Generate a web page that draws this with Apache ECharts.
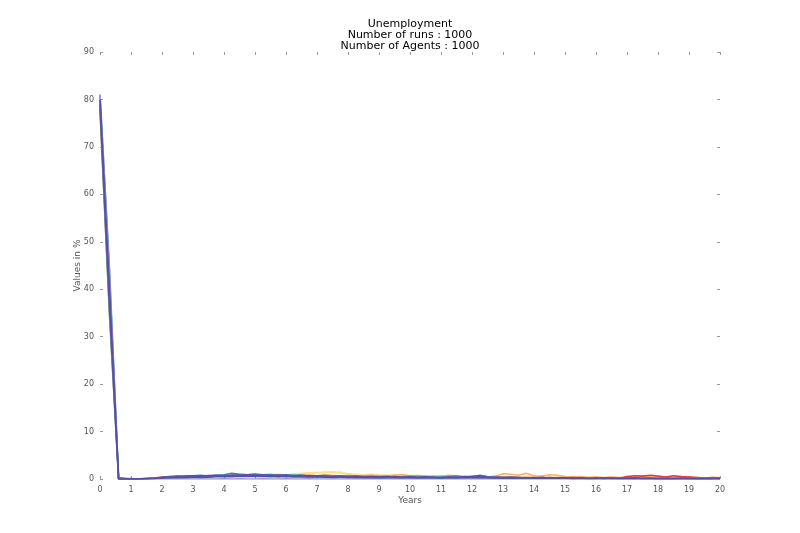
<!DOCTYPE html>
<html>
<head>
<meta charset="utf-8">
<script src="https://cdn.jsdelivr.net/npm/echarts@6/dist/echarts.min.js"></script>
<style>
  html, body { margin: 0; padding: 0; background: #fff; }
  #chart { width: 800px; height: 533px; }
</style>
</head>
<body>
<div id="chart"></div>
<script>
// sample times in years: three points for the initial drop, then quarterly from 1 to 20
const years = [0, 0.3, 0.6];
for (let t = 1; t <= 20.001; t += 0.25) years.push(+t.toFixed(2));

const yTicks = [0, 10, 20, 30, 40, 50, 60, 70, 80, 90];
const xTicks = [0, 1, 2, 3, 4, 5, 6, 7, 8, 9, 10, 11, 12, 13, 14, 15, 16, 17, 18, 19, 20];

// a handful of representative runs
const runYellowGreen = [80, 43, 0,
  0, 0, 0, 0.05,  0.2, 0.3, 0.3, 0.4,  0.5, 0.6, 0.5, 0.7,  0.6, 0.7, 0.8, 0.7,
  0.8, 1.0, 0.9, 1.0,  0.9, 1.0, 1.1, 1.3,  1.2, 1.6, 1.4, 1.5,  1.0, 0.9, 0.8, 0.9,
  0.7, 0.8, 0.6, 0.7,  0.8, 0.7, 0.6, 0.7,  0.6, 0.5, 0.6, 0.5,  0.4, 0.5, 0.4, 0.3,
  0.4, 0.3, 0.4, 0.3,  0.3, 0.4, 0.3, 0.4,  0.3, 0.4, 0.3, 0.2,  0.3, 0.2, 0.3, 0.2,
  0.2, 0.3, 0.2, 0.3,  0.2, 0.3, 0.2, 0.2,  0.3, 0.2, 0.2, 0.2,  0.3];
const runYellow = [79, 39, 0,
  0, 0, 0.05, 0.1,  0.3, 0.4, 0.3, 0.5,  0.5, 0.6, 0.7, 0.6,  0.7, 0.8, 0.9, 0.8,
  1.0, 0.8, 0.9, 1.0,  0.9, 1.1, 1.2, 1.3,  1.4, 1.3, 1.5, 1.2,  1.1, 1.0, 0.9, 1.0,
  0.9, 0.8, 0.9, 0.8,  0.7, 0.8, 0.6, 0.5,  0.6, 0.5, 0.4, 0.5,  0.4, 0.5, 0.3, 0.4,
  0.5, 0.4, 0.3, 0.4,  0.3, 0.4, 0.3, 0.4,  0.3, 0.2, 0.3, 0.4,  0.3, 0.2, 0.3, 0.2,
  0.3, 0.2, 0.3, 0.2,  0.2, 0.3, 0.2, 0.3,  0.2, 0.3, 0.2, 0.2,  0.3];
const runOrange = [80, 42, 0,
  0, 0, 0.1, 0.2,  0.3, 0.4, 0.5, 0.4,  0.6, 0.5, 0.6, 0.7,  0.6, 0.7, 0.6, 0.8,
  0.7, 0.8, 0.7, 0.9,  0.8, 0.7, 0.8, 0.9,  0.7, 0.9, 0.8, 0.7,  0.8, 0.6, 0.7, 0.8,
  0.7, 0.6, 0.8, 0.9,  0.7, 0.6, 0.7, 0.5,  0.6, 0.8, 0.6, 0.5,  0.6, 0.5, 0.4, 0.6,
  1.1, 1.0, 0.8, 1.2,  0.7, 0.6, 0.9, 0.8,  0.5, 0.4, 0.5, 0.3,  0.4, 0.3, 0.4, 0.3,
  0.4, 0.3, 0.5, 0.4,  0.3, 0.4, 0.3, 0.5,  0.4, 0.3, 0.2, 0.3,  0.3];
const runRed = [78, 36, 0,
  0.1, 0, 0.1, 0.2,  0.4, 0.5, 0.4, 0.6,  0.5, 0.6, 0.5, 0.7,  0.6, 0.7, 0.6, 0.7,
  0.6, 0.7, 0.6, 0.5,  0.6, 0.5, 0.6, 0.5,  0.5, 0.6, 0.5, 0.4,  0.5, 0.4, 0.5, 0.4,
  0.4, 0.5, 0.4, 0.3,  0.4, 0.3, 0.4, 0.5,  0.4, 0.5, 0.6, 0.4,  0.5, 0.4, 0.3, 0.4,
  0.3, 0.4, 0.3, 0.2,  0.3, 0.2, 0.3, 0.2,  0.2, 0.3, 0.2, 0.1,  0.2, 0.1, 0.2, 0.1,
  0.5, 0.7, 0.6, 0.8,  0.6, 0.4, 0.7, 0.5,  0.4, 0.3, 0.2, 0.3,  0.2];
const runTeal = [78, 35, 0,
  0, 0, 0, 0.1,  0.2, 0.3, 0.4, 0.5,  0.6, 0.5, 0.7, 0.6,  0.8, 0.7, 1.0, 0.9,
  1.1, 0.9, 1.0, 0.8,  0.7, 0.9, 0.8, 0.6,  0.7, 0.8, 0.6, 0.7,  0.6, 0.5, 0.6, 0.5,
  0.5, 0.6, 0.4, 0.5,  0.7, 0.6, 0.5, 0.4,  0.5, 0.4, 0.5, 0.3,  0.4, 0.3, 0.4, 0.3,
  0.3, 0.4, 0.3, 0.2,  0.3, 0.2, 0.3, 0.2,  0.3, 0.2, 0.3, 0.2,  0.2, 0.1, 0.2, 0.1,
  0.1, 0.2, 0.1, 0.2,  0.1, 0.2, 0.1, 0.1,  0.1, 0.2, 0.1, 0.1,  0.1];
const runBlue = [81, 45, 0.3,
  0, 0, 0.1, 0.2,  0.3, 0.5, 0.6, 0.5,  0.7, 0.8, 0.6, 0.8,  0.9, 1.2, 1.0, 0.9,
  1.0, 0.8, 0.9, 0.7,  0.9, 0.7, 0.8, 0.6,  0.6, 0.7, 0.5, 0.6,  0.5, 0.6, 0.4, 0.5,
  0.4, 0.5, 0.4, 0.3,  0.4, 0.3, 0.4, 0.3,  0.3, 0.4, 0.3, 0.5,  0.4, 0.8, 0.5, 0.3,
  0.3, 0.2, 0.3, 0.2,  0.2, 0.3, 0.2, 0.2,  0.2, 0.1, 0.2, 0.1,  0.1, 0.2, 0.1, 0.1,
  0.1, 0.2, 0.1, 0.1,  0.1, 0.05, 0.1, 0.1,  0.05, 0.1, 0.05, 0.1,  0.1];
const runLavender = [81, 44, 0,
  0, 0, 0, 0,  0, 0.05, 0, 0.05,  0, 0.05, 0, 0,  0.05, 0, 0.05, 0,
  0, 0.05, 0, 0,  0.05, 0, 0, 0.05,  0, 0, 0.05, 0,  0, 0.05, 0, 0,
  0.05, 0, 0, 0,  0, 0.05, 0, 0,  0, 0, 0.05, 0,  0, 0, 0, 0.05,
  0, 0, 0, 0,  0.05, 0, 0, 0,  0, 0, 0.05, 0,  0, 0, 0, 0,
  0, 0.05, 0, 0,  0, 0, 0, 0.05,  0, 0, 0, 0,  0];
const runPurpleB = [79, 37, 0,
  0, 0.05, 0.1, 0.15,  0.3, 0.4, 0.55, 0.6,  0.7, 0.6, 0.75, 0.8,  0.7, 0.85, 0.8, 0.9,
  0.8, 0.9, 0.75, 0.85,  0.8, 0.7, 0.75, 0.65,  0.7, 0.6, 0.55, 0.6,  0.5, 0.55, 0.45, 0.5,
  0.45, 0.4, 0.5, 0.4,  0.45, 0.35, 0.4, 0.35,  0.3, 0.4, 0.35, 0.45,  0.5, 0.65, 0.4, 0.35,
  0.3, 0.35, 0.25, 0.3,  0.25, 0.3, 0.2, 0.25,  0.2, 0.25, 0.2, 0.15,  0.2, 0.15, 0.2, 0.15,
  0.15, 0.2, 0.1, 0.15,  0.1, 0.15, 0.1, 0.15,  0.1, 0.15, 0.1, 0.1,  0.15];
const runPurpleA = [80, 41, 0,
  0, 0, 0.05, 0.1,  0.2, 0.25, 0.3, 0.35,  0.4, 0.45, 0.4, 0.5,  0.55, 0.5, 0.6, 0.55,
  0.6, 0.55, 0.5, 0.6,  0.55, 0.5, 0.45, 0.5,  0.45, 0.4, 0.45, 0.4,  0.35, 0.4, 0.3, 0.35,
  0.3, 0.35, 0.3, 0.25,  0.3, 0.25, 0.3, 0.25,  0.2, 0.25, 0.3, 0.25,  0.3, 0.35, 0.25, 0.2,
  0.2, 0.15, 0.2, 0.2,  0.15, 0.2, 0.15, 0.2,  0.15, 0.1, 0.15, 0.1,  0.1, 0.15, 0.1, 0.1,
  0.1, 0.05, 0.1, 0.1,  0.05, 0.1, 0.05, 0.1,  0.1, 0.05, 0.1, 0.05,  0.1];

const runs = [
  { values: runYellowGreen, color: "#e6f598" },
  { values: runYellow, color: "#fee08b" },
  { values: runOrange, color: "#fdae61" },
  { values: runRed, color: "#d53e4f" },
  { values: runTeal, color: "#66c2a5" },
  { values: runBlue, color: "#3288bd" },
  { values: runLavender, color: "#9a9ad6" },
  { values: runPurpleB, color: "#5e4fa2" },
  { values: runPurpleA, color: "#5b4ea0" }
];

const chart = echarts.init(document.getElementById("chart"));
const font = "DejaVu Sans";
const tickStyle = { inside: true, length: 3, lineStyle: { color: "#999" } };

let series = runs.map((r) => ({
  type: "line",
  showSymbol: false,
  symbol: "none",
  data: years.map((x, i) => [x, r.values[i]]),
  lineStyle: { width: 1.6, color: r.color },
  itemStyle: { color: r.color },
  xAxisIndex: 0,
  yAxisIndex: 0
}));

chart.setOption({
  animation: false,
  backgroundColor: "#fff",
  title: {
    text: "Unemployment\nNumber of runs : 1000\nNumber of Agents : 1000",
    left: 405,
    top: 14,
    textAlign: "center",
    textStyle: { fontFamily: font, fontSize: 11, fontWeight: "normal", color: "#000", lineHeight: 11 }
  },
  grid: { left: 100, right: 80, top: 52, bottom: 54 },
  xAxis: [
    {
      type: "value", min: 0, max: 20, interval: 1,
      name: "Years", nameLocation: "middle", nameGap: 17, nameMoveOverlap: false,
      nameTextStyle: { fontFamily: font, fontSize: 9, color: "#555" },
      axisLine: { show: false, onZero: false },
      axisTick: tickStyle,
      splitLine: { show: false },
      axisLabel: { fontFamily: font, fontSize: 8, color: "#555", margin: 7,
        formatter: (v) => (xTicks.includes(v) ? String(v) : "") }
    },
    {
      type: "value", min: 0, max: 20, interval: 1, position: "top",
      axisLine: { show: false, onZero: false }, axisTick: tickStyle,
      splitLine: { show: false }, axisLabel: { show: false }
    }
  ],
  yAxis: [
    {
      type: "value", min: 0, max: 90, interval: 10,
      name: "Values in %", nameLocation: "middle", nameGap: 18, nameMoveOverlap: false,
      nameTextStyle: { fontFamily: font, fontSize: 9, color: "#555" },
      axisLine: { show: false, onZero: false },
      axisTick: tickStyle,
      splitLine: { show: false },
      axisLabel: { fontFamily: font, fontSize: 8, color: "#555", margin: 6,
        formatter: (v) => (yTicks.includes(v) ? String(v) : "") }
    },
    {
      type: "value", min: 0, max: 90, interval: 10, position: "right",
      axisLine: { show: false, onZero: false }, axisTick: tickStyle,
      splitLine: { show: false }, axisLabel: { show: false }
    }
  ],
  series: series
});
</script>
</body>
</html>
